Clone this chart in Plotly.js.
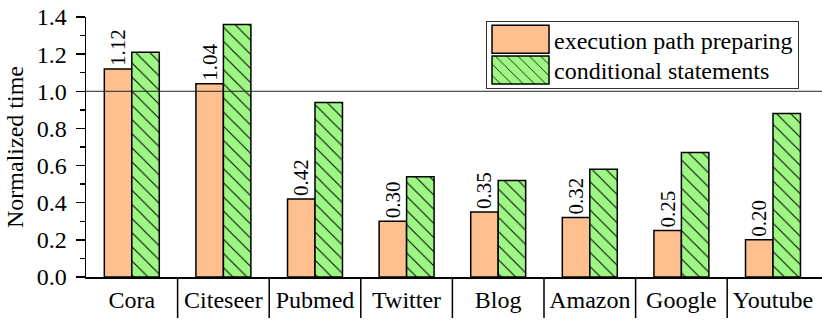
<!DOCTYPE html>
<html><head><meta charset="utf-8">
<script src="https://cdn.plot.ly/plotly-3.0.1.min.js"></script>
<style>html,body{margin:0;padding:0;background:#fff}#chart{width:822px;height:320px}</style>
</head><body><div id="chart"></div>
<script>
const categories = ['Cora', 'Citeseer', 'Pubmed', 'Twitter', 'Blog', 'Amazon', 'Google', 'Youtube'];
const seriesNames = ['execution path preparing', 'conditional statements'];
const execPathPreparing = [1.12, 1.04, 0.42, 0.30, 0.35, 0.32, 0.25, 0.20];
const conditionalStatements = [1.21, 1.36, 0.94, 0.54, 0.52, 0.58, 0.67, 0.88];
const yTickValues = [0.0, 0.2, 0.4, 0.6, 0.8, 1.0, 1.2, 1.4];
const referenceValue = 1.0;
const yTitle = 'Normalized time';

const FONT = '"Liberation Serif", "Times New Roman", serif';
const orange = '#FFC08F';
const green = '#9EF784';

const traces = [
  {
    type: 'bar', name: seriesNames[0], x: categories, y: execPathPreparing,
    marker: {color: orange, line: {color: '#000', width: 1.5}},
    texttemplate: '%{y:.2f}', textposition: 'outside', textangle: -90,
    textfont: {family: FONT, size: 21, color: '#000'},
    constraintext: 'none', cliponaxis: false, hoverinfo: 'skip'
  },
  {
    type: 'bar', name: seriesNames[1], x: categories, y: conditionalStatements,
    marker: {color: green, line: {color: '#000', width: 1.5},
      pattern: {shape: '\\', fgcolor: '#000', bgcolor: green, fillmode: 'replace', size: 10, solidity: 0.1}},
    hoverinfo: 'skip'
  }
];

const separators = categories.slice(0, -1).map((c, i) => ({
  type: 'line', xref: 'x', yref: 'paper', x0: i + 0.5, x1: i + 0.5, y0: 0, y1: -0.158,
  line: {color: '#000', width: 1.5}
}));

const layout = {
  width: 822, height: 320,
  margin: {l: 86, r: 0, t: 17, b: 43},
  paper_bgcolor: '#fff', plot_bgcolor: '#fff',
  font: {family: FONT, size: 24, color: '#000'},
  barmode: 'group', bargap: 0.4, bargroupgap: 0,
  showlegend: true,
  legend: {
    x: 0.5435, y: 0.986, xanchor: 'left', yanchor: 'top',
    bgcolor: '#fff', bordercolor: '#333', borderwidth: 1,
    font: {family: FONT, size: 24, color: '#000'},
    itemwidth: 57, traceorder: 'normal'
  },
  xaxis: {
    type: 'category', range: [-0.5, 7.535], showgrid: false, zeroline: false,
    showline: true, linecolor: '#000', linewidth: 1.5, ticks: '',
    tickfont: {family: FONT, size: 24, color: '#000'}, ticklabelstandoff: 1,
    fixedrange: true
  },
  yaxis: {
    range: [0, 1.4], tickmode: 'array', tickvals: yTickValues,
    ticktext: yTickValues.map(v => v.toFixed(1)),
    showgrid: false, zeroline: false, showline: true, linecolor: '#000', linewidth: 1.5,
    ticks: 'outside', ticklen: 9, tickwidth: 1.5, tickcolor: '#000',
    minor: {dtick: 0.1, ticks: 'outside', ticklen: 5, tickwidth: 1.5, tickcolor: '#000'},
    tickfont: {family: FONT, size: 24, color: '#000'}, ticklabelstandoff: 4,
    title: {text: yTitle, font: {family: FONT, size: 24, color: '#000'}, standoff: 6},
    fixedrange: true
  },
  shapes: [
    {type: 'line', xref: 'paper', yref: 'y', x0: 0, x1: 1, y0: referenceValue, y1: referenceValue,
     line: {color: '#222', width: 1}, layer: 'above'}
  ].concat(separators)
};

Plotly.newPlot('chart', traces, layout, {staticPlot: true, displayModeBar: false}).then(gd => {
  // enlarge legend swatches and tighten legend spacing like the original
  gd.querySelectorAll('.legend .legendpoints path').forEach(p => {
    p.setAttribute('d', 'M28.5,14H-28.5V-14H28.5Z');
  });
  const shifts = [-4.5, -8];
  gd.querySelectorAll('.legend .traces').forEach((el, i) => {
    const t = el.getAttribute('transform') || '';
    const m = /translate\(\s*([-\d.e]+)[ ,]*([-\d.e]*)\s*\)/.exec(t);
    if (m) {
      const x = +m[1], y = m[2] === '' ? 0 : +m[2];
      el.setAttribute('transform', 'translate(' + x + ',' + (y + (shifts[i] || 0)) + ')');
    }
  });
  const bg = gd.querySelector('.legend .bg');
  if (bg) bg.setAttribute('height', 67);
});
</script>
</body></html>
